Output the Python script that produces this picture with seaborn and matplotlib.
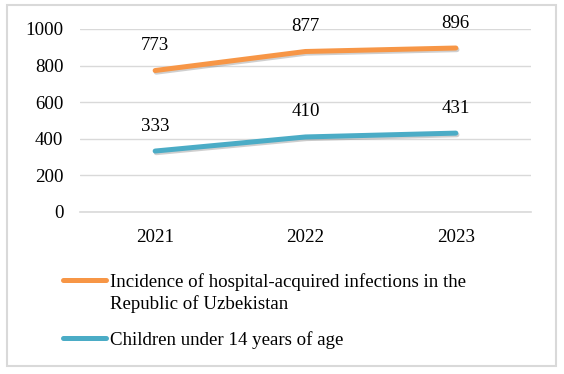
import pandas as pd
import seaborn as sns
import matplotlib.pyplot as plt
import matplotlib.patheffects as pe
from matplotlib.patches import Rectangle

# Data
years = ['2021', '2022', '2023']
hospital = [773, 877, 896]
children = [333, 410, 431]
series_names = ['Incidence of hospital-acquired infections in the\nRepublic of Uzbekistan',
                'Children under 14 years of age']
colors = ['#F79646', '#4BACC6']

data = pd.DataFrame({
    'year': years * 2,
    'value': hospital + children,
    'series': [series_names[0]] * 3 + [series_names[1]] * 3,
})

sns.set_style('white')
plt.rcParams['font.family'] = ['Liberation Serif', 'DejaVu Serif']
fs = 13.6

fig = plt.figure(figsize=(5.64, 3.74), dpi=100)
ax = fig.add_axes([0.1418, 0.4332, 0.7997, 0.4893])

sns.lineplot(x='year', y='value', hue='series', data=data, palette=colors,
             linewidth=3.6, ax=ax, legend=False, sort=False)

shadow = [pe.SimpleLineShadow(offset=(0.8, -1.2), shadow_color='#777777', alpha=0.35),
          pe.Normal()]
for line in ax.get_lines():
    line.set_solid_capstyle('round')
    line.set_path_effects(shadow)

# Data labels above points
for vals in (hospital, children):
    for i, v in enumerate(vals):
        ax.annotate(str(v), (i, v), xytext=(0, 18), textcoords='offset points',
                    ha='center', va='center', fontsize=fs, color='#000000')

ax.set_xlim(-0.5, 2.5)
ax.set_ylim(0, 1000)
ax.set_yticks(range(0, 1001, 200))
ax.set_xlabel('')
ax.set_ylabel('')
ax.tick_params(axis='both', length=0, labelsize=fs, colors='#000000')
ax.tick_params(axis='y', pad=12)
ax.tick_params(axis='x', pad=12)
ax.grid(axis='y', color='#D9D9D9', linewidth=1)
ax.set_axisbelow(True)
for side in ['top', 'right', 'left']:
    ax.spines[side].set_visible(False)
ax.spines['bottom'].set_color('#D9D9D9')
ax.spines['bottom'].set_linewidth(1.2)

# Legend (drawn by hand so the key sits on the first text line)
legend_y = [1 - 280 / 374, 1 - 338 / 374]
for name, c, y in zip(series_names, colors, legend_y):
    fig.add_artist(plt.Line2D([63 / 564, 106 / 564], [y, y], color=c, linewidth=3.6,
                              solid_capstyle='round', transform=fig.transFigure))
    fig.text(110 / 564, y + 0.018, name, ha='left', va='top', fontsize=fs,
             linespacing=1.3, color='#000000')

# Outer border
fig.patches.append(Rectangle((0.013, 0.021), 0.973, 0.965, transform=fig.transFigure,
                             fill=False, edgecolor='#D9D9D9', linewidth=1.5))

fig.savefig('out.png', dpi=100)
